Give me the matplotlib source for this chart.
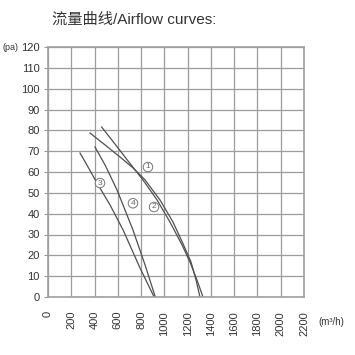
import numpy as np
import matplotlib
matplotlib.use("Agg")
from matplotlib import pyplot as plt

# Kurven (Luftmenge m3/h, Druck Pa)
c1_x = [461, 576, 688, 816, 937, 1048, 1152, 1220, 1280, 1332]
c1_y = [81.6, 73.4, 65.3, 56.2, 46.6, 36.0, 25.0, 16.8, 8.2, 0]
c2_x = [361, 490, 619, 730, 834, 962, 1074, 1165, 1229, 1272, 1306]
c2_y = [78.7, 73.0, 67.2, 62.0, 56.2, 46.6, 36.0, 25.0, 16.8, 8.2, 0]
c3_x = [275, 318, 421, 533, 645, 791, 912]
c3_y = [69.1, 65.0, 54.7, 44.2, 32.2, 13.9, 0]
c4_x = [404, 490, 593, 730, 834, 922]
c4_y = [72.0, 63.4, 51.4, 32.2, 15.4, 0]

labels = ["1", "2", "3", "4"]
label_x = [859, 911, 447, 730]
label_y = [62.4, 43.2, 54.7, 45.0]

x_ticks = list(range(0, 2201, 200))
y_ticks = list(range(0, 121, 10))

fam = ['Liberation Sans Narrow', 'Liberation Sans', 'Noto Sans CJK SC']

fig = plt.figure(figsize=(3.55, 3.55), dpi=100)
ax = fig.add_axes([48/355, 58/355, 256/355, 250/355])

for xs, ys in [(c1_x, c1_y), (c2_x, c2_y), (c3_x, c3_y), (c4_x, c4_y)]:
    ax.plot(xs, ys, color='#505050', lw=0.9)

for t, lx, ly in zip(labels, label_x, label_y):
    ax.text(lx, ly, t, fontsize=6, color='#666666', ha='center', va='center',
            family=fam,
            bbox=dict(boxstyle='circle,pad=0.15', fc='white', ec='#777777', lw=0.7))

ax.set_xlim(0, 2200)
ax.set_ylim(0, 120)
ax.set_xticks(x_ticks)
ax.set_yticks(y_ticks)
ax.set_xticklabels([str(v) for v in x_ticks], rotation=90, fontsize=8,
                   family=fam, color='#333333')
ax.set_yticklabels([str(v) for v in y_ticks], fontsize=8, family=fam,
                   color='#333333')
ax.tick_params(axis='x', length=0, pad=10)
ax.tick_params(axis='y', length=3, color='#999999', pad=3)
ax.grid(True, color='#9c9c9c', lw=0.9)
ax.set_axisbelow(True)
for s in ax.spines.values():
    s.set_color('#a0a0a0')
    s.set_linewidth(1.2)

fig.text(3/355, 1 - 47/355, "(pa)", fontsize=6.5, family=fam, color='#333333',
         va='center', ha='left')
fig.text(318/355, 1 - 322/355, "(m\u00b3/h)", fontsize=7, family=fam,
         color='#333333', va='center', ha='left')
fig.text(52/355, 1 - 20/355, "流量曲线/Airflow curves:", fontsize=11,
         family=fam, color='#333333', va='center', ha='left')

fig.savefig("out.png", dpi=100, facecolor='white')
